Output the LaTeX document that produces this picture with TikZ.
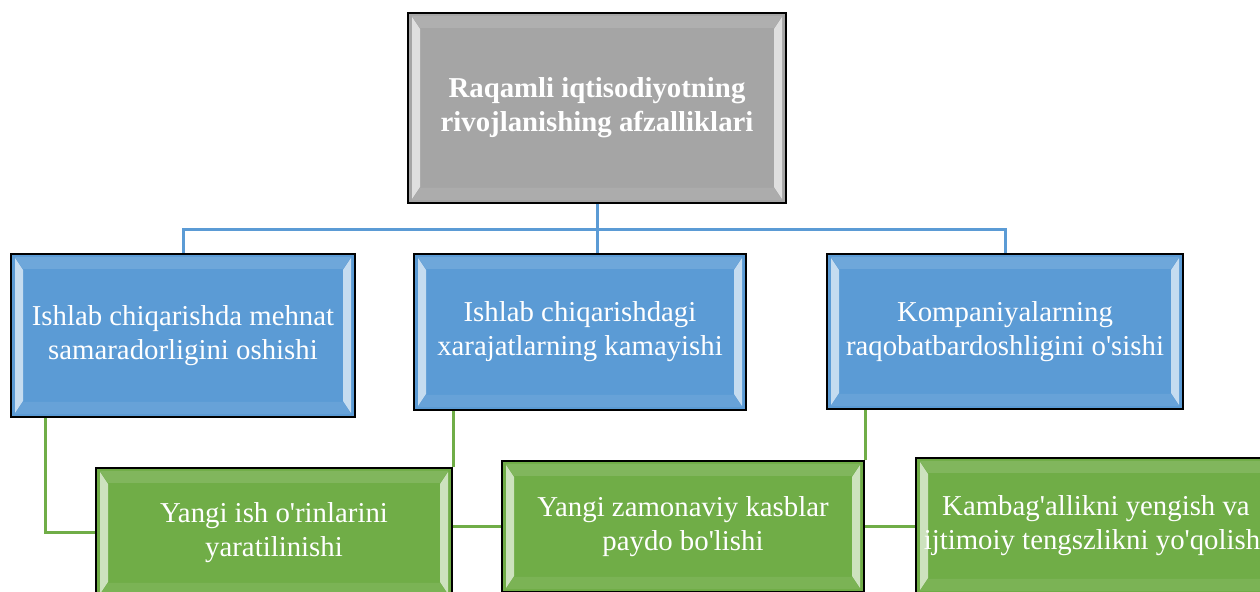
\documentclass[tikz,border=0pt]{standalone}
\usepackage{fontspec}
\setmainfont{Liberation Serif}
\definecolor{boxgray}{HTML}{A5A5A5}
\definecolor{boxblue}{HTML}{5B9BD5}
\definecolor{boxgreen}{HTML}{70AD47}
\newcommand\apos{\textquotesingle}
\begin{document}
\begin{tikzpicture}
[x=0.5pt,y=-0.5pt,
box/.style={draw=black,line width=1pt,anchor=north west,inner sep=0pt,
  align=center,text=white,font=\fontsize{14.4}{17}\selectfont,
  path picture={
    \fill[white,opacity=.65] ([shift={(2pt,-2pt)}]path picture bounding box.north west)
      -- ++(4pt,-6pt) -- ([shift={(6pt,8pt)}]path picture bounding box.south west)
      -- ++(-4pt,-6pt) -- cycle;
    \fill[white,opacity=.65] ([shift={(-2pt,-2pt)}]path picture bounding box.north east)
      -- ++(-4pt,-6pt) -- ([shift={(-6pt,8pt)}]path picture bounding box.south east)
      -- ++(4pt,-6pt) -- cycle;
    \fill[white,opacity=.12] ([shift={(2pt,-1.5pt)}]path picture bounding box.north west)
      -- ([shift={(-2pt,-1.5pt)}]path picture bounding box.north east)
      -- ++(-4pt,-6pt) -- ([shift={(6pt,-7.5pt)}]path picture bounding box.north west) -- cycle;
    \fill[white,opacity=.08] ([shift={(2pt,1.5pt)}]path picture bounding box.south west)
      -- ([shift={(-2pt,1.5pt)}]path picture bounding box.south east)
      -- ++(-4pt,6pt) -- ([shift={(6pt,7.5pt)}]path picture bounding box.south west) -- cycle;
  }},
graybox/.style={box,fill=boxgray,font=\fontsize{14.4}{17}\selectfont\bfseries},
bluebox/.style={box,fill=boxblue},
greenbox/.style={box,fill=boxgreen},
blueline/.style={draw=boxblue,line width=1.5pt},
greenline/.style={draw=boxgreen,line width=1.5pt}]
  \useasboundingbox (0,0) rectangle (1260,592);
  % top
  \node[graybox,minimum width=189pt,minimum height=95pt] (afzal) at (407,12)
    {Raqamli iqtisodiyotning\\rivojlanishing afzalliklari};
  % blue row
  \node[bluebox,minimum width=172pt,minimum height=81.5pt] (mehnat) at (10,253)
    {Ishlab chiqarishda mehnat\\samaradorligini oshishi};
  \node[bluebox,minimum width=166pt,minimum height=78pt] (xarajat) at (413,253)
    {Ishlab chiqarishdagi\\xarajatlarning kamayishi};
  \node[bluebox,minimum width=178pt,minimum height=77.5pt] (raqobat) at (826,253)
    {Kompaniyalarning\\raqobatbardoshligini o\apos sishi};
  % green row
  \node[greenbox,minimum width=178pt,minimum height=65pt] (ishorin) at (95,467)
    {Yangi ish o\apos rinlarini\\yaratilinishi};
  \node[greenbox,minimum width=181pt,minimum height=65.5pt] (kasblar) at (501,460)
    {Yangi zamonaviy kasblar\\paydo bo\apos lishi};
  \node[greenbox,minimum width=180pt,minimum height=68pt] (kambag) at (915,457)
    {Kambag\apos allikni yengish va\\ijtimoiy tengszlikni yo\apos qolishi};
  % blue connectors
  \draw[blueline] (afzal.south) -- ++(0,26) coordinate (hub);
  \draw[blueline] (mehnat.north) |- (hub) -| (raqobat.north);
  \draw[blueline] (hub) -- (hub |- xarajat.north);
  % green connectors
  \draw[greenline] ([xshift=17.5pt]mehnat.south west) |- (ishorin.west);
  \draw[greenline] (ishorin.north east) -- (ishorin.north east |- xarajat.south);
  \draw[greenline] (kasblar.north east) -- (kasblar.north east |- raqobat.south);
  \draw[greenline] (kasblar.west -| ishorin.east) -- (kasblar.west);
  \draw[greenline] (kasblar.east) -- (kasblar.east -| kambag.west);
\end{tikzpicture}
\end{document}
